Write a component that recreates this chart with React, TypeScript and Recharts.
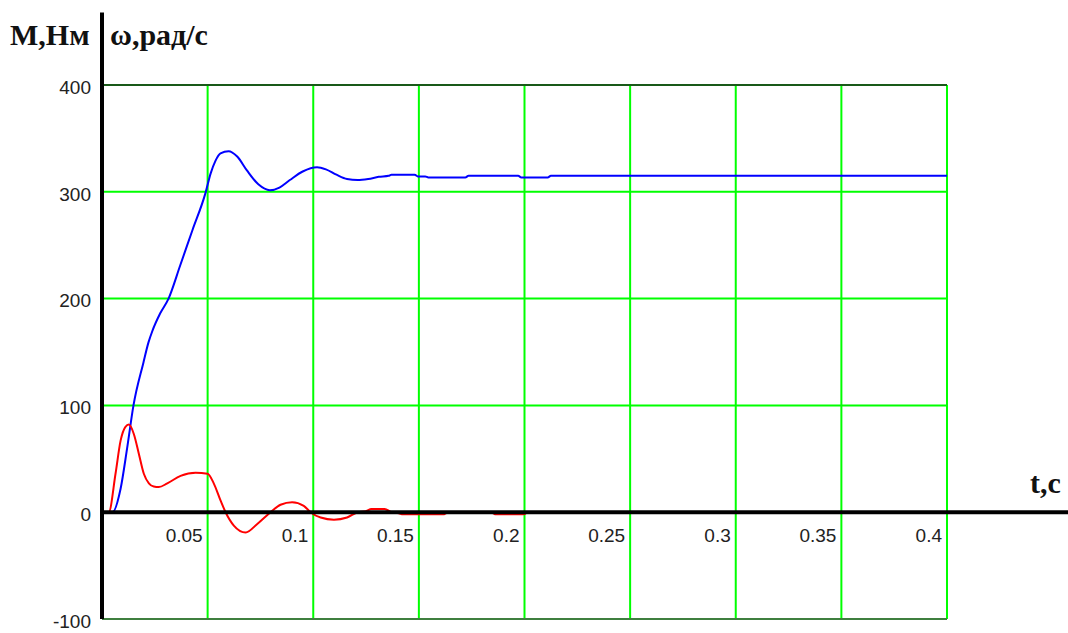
import { LineChart, Line, XAxis, YAxis, CartesianGrid, ReferenceLine } from "recharts";

// ω(t), rad/s — speed transient
const omegaTime = [
  0, 0.005, 0.0088, 0.0119, 0.0149, 0.0196, 0.022, 0.0239, 0.0275, 0.0315, 0.037, 0.0428, 0.049,
  0.0514, 0.0537, 0.0561, 0.0599, 0.064, 0.0686, 0.074, 0.0795, 0.084, 0.0889, 0.095, 0.1018,
  0.106, 0.111, 0.116, 0.121, 0.126, 0.131, 0.1357, 0.137, 0.148, 0.1495, 0.153, 0.1545, 0.172,
  0.1735, 0.197, 0.1985, 0.211, 0.2125, 0.4,
];
const omegaValue = [
  0, 0, 22, 60, 100, 140, 159, 170, 186, 200, 231, 264, 299,
  317, 329, 336, 338, 333, 320, 307, 301.5, 304, 311, 319, 323,
  321, 316, 312, 311, 312, 314, 315, 316, 316, 314.4, 314.4, 313.4, 313.4,
  315, 315, 313.4, 313.4, 315, 315,
];

// M(t), N·m — torque transient
const torqueTime = [
  0, 0.0032, 0.0064, 0.0088, 0.0111, 0.0127, 0.0151, 0.0174, 0.0198, 0.0222, 0.0245, 0.0269,
  0.0309, 0.0372, 0.0443, 0.05, 0.0529, 0.0561, 0.0585, 0.0624, 0.068, 0.0735, 0.0798, 0.0845,
  0.09, 0.0955, 0.0987, 0.1035, 0.1098, 0.116, 0.121, 0.125, 0.1275, 0.1338, 0.137, 0.1405,
  0.1425, 0.1614, 0.164, 0.184, 0.1866, 0.1995, 0.202, 0.4,
];
const torqueValue = [
  0, 0, 36, 67, 80, 82, 73, 55, 36, 27, 24, 23.5,
  27, 34, 37, 36, 27, 11, 0, -12.5, -19, -11, 0, 7,
  9.4, 6, 0, -5, -7, -5, 0, 1, 3, 3, 0, -1,
  -2, -2, 0, 0, -2, -2, 0, 0,
];

const xTicks = [0, 0.05, 0.1, 0.15, 0.2, 0.25, 0.3, 0.35, 0.4];
const yTicks = [-100, 0, 100, 200, 300, 400];

const omegaData = omegaTime.map((t, i) => ({ t, v: omegaValue[i] }));
const torqueData = torqueTime.map((t, i) => ({ t, v: torqueValue[i] }));

const tickFont = "'Liberation Sans', Arial, sans-serif";
const titleFont = "'Liberation Serif', 'Times New Roman', serif";

function TimeTick({ x, y, payload }: any) {
  if (payload.value === 0) return null;
  return (
    <text x={x - 5} y={y - 84} dy="0.36em" textAnchor="end" fontSize={19} fontFamily={tickFont} fill="#222">
      {String(payload.value)}
    </text>
  );
}

function ValueTick({ x, y, payload }: any) {
  return (
    <text x={x} y={y + 2} dy="0.36em" textAnchor="end" fontSize={19} fontFamily={tickFont} fill="#222">
      {payload.value}
    </text>
  );
}

const titleStyle = {
  position: "absolute" as const,
  fontFamily: titleFont,
  fontSize: 30,
  fontWeight: 700,
  lineHeight: "30px",
  color: "#111",
  whiteSpace: "nowrap" as const,
};

export default function App() {
  return (
    <div style={{ position: "absolute", left: 0, top: 0, width: 1068, height: 633, background: "#fff" }}>
      <LineChart
        width={1068}
        height={633}
        margin={{ top: 85, right: 121, left: 0, bottom: 0 }}
      >
        <CartesianGrid stroke="#00ff00" strokeWidth={2} />
        <XAxis
          dataKey="t"
          type="number"
          domain={[0, 0.4]}
          ticks={xTicks}
          height={14}
          axisLine={false}
          tickLine={false}
          tickSize={0}
          tickMargin={0}
          tick={<TimeTick />}
          interval={0}
        />
        <YAxis
          type="number"
          domain={[-100, 400]}
          ticks={yTicks}
          width={102}
          axisLine={false}
          tickLine={false}
          tickSize={0}
          tickMargin={11}
          tick={<ValueTick />}
          interval={0}
        />
        <ReferenceLine y={400} stroke="#222" strokeWidth={1.5} />
        <ReferenceLine y={-100} stroke="#555" strokeWidth={1.5} />
        <Line
          data={omegaData}
          dataKey="v"
          type="monotone"
          stroke="#0000ff"
          strokeWidth={2}
          dot={false}
          isAnimationActive={false}
        />
        <Line
          data={torqueData}
          dataKey="v"
          type="monotone"
          stroke="#ff0000"
          strokeWidth={2}
          dot={false}
          isAnimationActive={false}
        />
        <ReferenceLine
          segment={[{ x: 0, y: 0 }, { x: 0.6, y: 0 }]}
          stroke="#000"
          strokeWidth={4}
          ifOverflow="visible"
        />
        <ReferenceLine
          segment={[{ x: 0, y: -100 }, { x: 0, y: 468 }]}
          stroke="#000"
          strokeWidth={4}
          ifOverflow="visible"
        />
      </LineChart>
      <div style={{ ...titleStyle, left: 10, top: 20 }}>M,Нм</div>
      <div style={{ ...titleStyle, left: 110, top: 20 }}>ω,рад/с</div>
      <div style={{ ...titleStyle, left: 1030, top: 468 }}>t,c</div>
    </div>
  );
}
